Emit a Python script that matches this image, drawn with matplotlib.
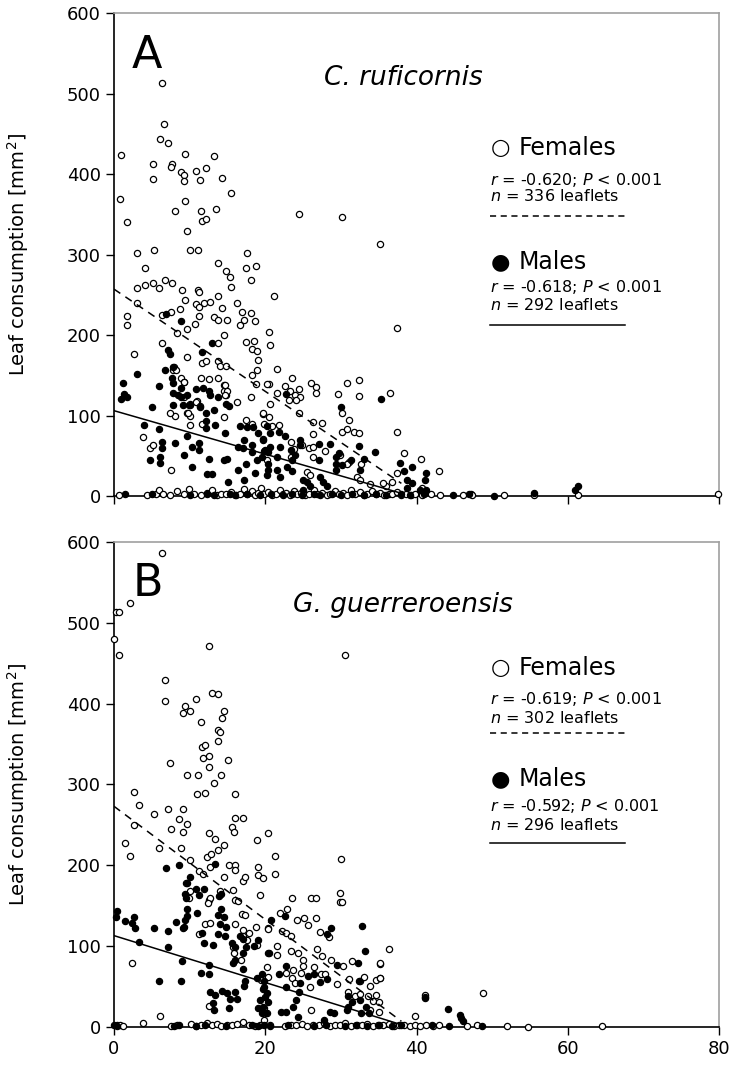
import matplotlib.pyplot as plt
import numpy as np

# ---- panel A: C. ruficornis (female = open, male = filled) ----
a_fem = [
    (6.4, 513), (6.65, 462), (6.1, 444), (7.2, 438), (0.9, 424), (9.4, 425), (13.2, 422), (5.2, 412),
    (7.7, 413), (7.6, 409), (8.8, 402), (9.3, 399), (9.3, 391), (10.9, 404), (12.2, 407), (11.4, 392),
    (5.2, 394), (14.3, 395), (15.5, 376), (0.8, 369), (9.4, 367), (8.1, 354), (11.5, 354), (13.5, 357),
    (11.6, 342), (12.2, 344), (1.7, 341), (9.7, 329), (24.4, 350), (30.2, 347), (35.2, 313), (3.1, 302),
    (5.3, 306), (10.0, 305), (11.1, 305), (17.6, 302), (13.8, 290), (18.8, 286), (17.5, 283),
    (4.1, 283), (3.0, 259), (4.1, 262), (5.1, 264), (5.9, 259), (6.8, 268), (7.7, 265), (9.0, 256),
    (9.4, 243), (3.0, 240), (1.7, 224), (1.7, 213), (2.6, 176), (6.3, 225), (7.5, 229), (8.7, 232),
    (8.3, 203), (9.7, 207), (10.7, 214), (10.9, 238), (11.3, 235), (11.9, 240), (12.7, 241), (11.3, 224),
    (11.1, 256), (11.3, 253), (13.2, 222), (13.8, 219), (14.9, 219), (14.3, 233), (13.8, 248), (14.8, 280),
    (15.3, 272), (15.5, 260), (18.1, 268), (16.3, 240), (16.9, 229), (17.2, 219), (18.1, 227), (18.7, 218),
    (16.6, 212), (14.5, 200), (13.7, 190), (6.4, 190), (9.6, 173), (11.6, 165), (12.2, 168), (13.8, 168),
    (14.0, 161), (14.8, 161), (17.5, 191), (18.5, 192), (18.3, 182), (18.9, 180), (19.0, 169), (18.9, 157),
    (18.3, 150), (18.8, 139), (18.1, 123), (20.5, 139), (7.8, 156), (8.8, 147), (9.3, 142), (11.5, 147),
    (12.6, 145), (13.8, 147), (14.5, 138), (14.6, 131), (14.8, 126), (16.3, 117), (11.0, 118), (9.9, 113),
    (9.7, 103), (10.0, 100), (8.1, 100), (11.6, 89), (10.0, 88), (14.5, 98), (3.9, 73), (4.8, 60),
    (5.1, 63), (7.6, 32), (17.5, 95), (18.3, 90), (19.7, 102), (20.5, 98), (20.2, 45), (8.0, 160),
    (8.2, 156), (9.2, 142), (9.3, 123), (10.0, 114), (10.9, 117), (11.4, 112), (14.7, 138), (14.9, 130),
    (14.7, 125), (7.4, 103), (9.8, 103),
    (21.1, 248), (20.5, 204), (20.6, 188), (21.5, 158), (20.2, 139), (21.5, 128), (20.6, 114), (22.6, 137),
    (23.5, 147), (23.3, 131), (23.9, 126), (24.5, 133), (24.6, 123), (24.1, 119), (23.2, 119), (24.5, 103),
    (26.0, 141), (26.7, 135), (26.7, 128), (26.3, 92), (27.5, 91), (26.3, 77), (29.6, 127), (30.8, 141),
    (32.4, 144), (32.4, 124), (30.2, 103), (30.2, 80), (30.8, 83), (31.8, 79), (32.4, 78), (31.1, 94),
    (36.5, 128), (37.4, 209), (37.4, 80), (38.3, 53), (40.6, 46), (43.0, 31), (19.7, 103), (19.8, 90),
    (20.9, 87), (21.8, 88), (23.4, 67), (23.8, 59), (23.4, 49), (24.9, 63), (25.8, 60), (26.3, 61),
    (27.9, 56), (29.9, 51), (31.1, 42), (30.8, 40), (32.6, 40), (26.3, 48), (25.5, 30), (25.9, 26),
    (32.1, 24), (32.5, 20), (33.9, 15), (37.4, 28), (35.9, 13), (35.6, 16), (36.7, 17), (40.7, 10),
    # near-zero row
    (0.7, 1), (4.4, 1), (5.6, 2), (6.0, 8), (6.5, 3), (7.4, 1), (8.3, 6), (9.2, 2), (9.9, 9), (10.6, 2),
    (11.5, 1), (12.3, 4), (12.9, 7), (13.6, 1), (14.2, 3), (14.8, 2), (15.5, 5), (16.1, 1), (16.7, 3),
    (17.2, 9), (17.6, 2), (18.2, 6), (18.6, 1), (19.1, 4), (19.5, 10), (19.9, 2), (20.4, 5), (20.9, 1),
    (21.4, 3), (21.9, 7), (22.4, 2), (22.8, 4), (23.3, 1), (23.8, 6), (24.2, 2), (24.7, 4), (25.3, 1),
    (25.8, 3), (26.4, 8), (26.9, 2), (27.5, 4), (28.1, 1), (28.6, 3), (29.2, 6), (29.7, 2), (30.3, 4),
    (30.8, 1), (31.4, 8), (31.9, 3), (32.5, 5), (33.0, 1), (33.5, 3), (34.1, 6), (34.6, 2), (35.2, 4),
    (35.7, 1), (36.3, 3), (36.8, 2), (37.4, 5), (38.0, 1), (38.6, 3), (39.3, 1), (39.8, 2), (40.7, 1),
    (41.9, 2), (43.1, 1), (46.1, 1), (47.2, 2), (47.4, 1), (51.6, 1), (55.5, 1), (61.3, 1), (79.8, 2),
]
a_male = [
    (6.9, 226), (8.9, 218), (12.9, 190), (11.6, 179), (7.2, 181), (7.4, 177), (3.1, 152), (1.2, 141),
    (1.3, 127), (0.9, 120), (1.7, 123), (6.0, 137), (6.7, 156), (7.8, 160), (7.7, 147), (7.8, 140),
    (8.9, 134), (7.8, 128), (8.4, 126), (8.8, 123), (9.6, 126), (7.8, 113), (9.1, 113), (10.1, 113),
    (10.9, 133), (11.8, 134), (11.4, 111), (12.2, 103), (13.7, 123), (14.8, 114), (15.2, 112), (13.2, 107),
    (5.0, 111), (4.0, 88), (5.9, 83), (4.7, 45), (6.1, 49), (6.1, 41), (6.4, 67), (6.4, 60), (8.1, 66),
    (9.3, 51), (10.3, 61), (11.3, 66), (11.3, 57), (9.7, 75), (12.1, 93), (12.1, 84), (13.3, 88),
    (14.7, 78), (10.3, 36), (12.6, 46), (12.3, 27), (13.0, 27), (14.9, 46), (14.5, 45), (15.1, 18),
    (16.4, 32), (16.4, 61), (17.1, 60), (16.7, 87), (17.6, 86), (17.2, 70), (18.4, 86), (19.0, 78),
    (18.2, 63), (18.3, 55), (18.9, 45), (19.6, 49), (19.7, 71), (20.0, 57), (20.4, 55), (17.5, 40),
    (17.2, 20), (18.7, 28), (20.4, 32), (20.2, 87), (12.5, 130), (12.7, 125),
    (22.8, 127), (30.0, 111), (35.3, 120), (19.7, 70), (20.6, 78), (19.9, 56), (20.6, 61), (21.8, 80),
    (22.6, 75), (21.9, 61), (21.5, 49), (20.3, 40), (21.5, 32), (20.2, 26), (21.9, 24), (23.4, 57),
    (23.9, 51), (23.5, 45), (22.9, 36), (23.5, 31), (24.6, 70), (24.6, 63), (27.1, 64), (28.6, 64),
    (27.1, 45), (29.3, 49), (29.8, 54), (29.3, 40), (29.4, 32), (30.1, 39), (31.3, 45), (32.4, 62),
    (33.1, 46), (32.5, 32), (34.5, 55), (37.8, 41), (38.3, 31), (39.4, 36), (41.2, 28), (38.7, 20),
    (39.4, 16), (40.5, 8), (41.3, 7), (25.0, 20), (25.5, 17), (25.9, 12), (27.7, 18), (27.2, 24),
    (25.0, 7), (28.1, 12), (41.1, 20), (38.7, 10),
    # near-zero row
    (1.4, 2), (5.0, 2), (10.0, 1), (12.3, 2), (13.2, 1), (15.3, 3), (16.0, 1), (17.6, 2), (19.3, 1),
    (20.8, 3), (22.4, 1), (23.5, 2), (24.9, 1), (26.5, 3), (27.3, 1), (28.8, 2), (30.0, 1), (31.5, 2),
    (33.0, 1), (34.7, 3), (36.0, 1), (37.9, 2), (39.2, 1), (41.0, 2), (44.8, 1), (46.9, 2), (50.2, 0),
    (55.5, 4), (61.3, 12), (61.0, 7),
]

# ---- panel B: G. guerreroensis ----
b_fem = [
    (6.4, 587), (2.1, 524), (0.3, 513), (0.7, 514), (0.0, 480), (0.6, 460), (12.6, 471), (6.7, 429),
    (6.8, 403), (12.9, 413), (13.7, 412), (10.8, 406), (9.4, 397), (9.1, 388), (10.0, 391), (14.5, 391),
    (14.3, 382), (11.5, 377), (13.8, 367), (14.0, 365), (13.8, 354), (11.6, 346), (12.0, 349), (11.8, 333),
    (12.6, 335), (12.6, 322), (15.1, 330), (7.4, 327), (9.7, 312), (11.1, 312), (14.1, 312), (13.2, 302),
    (30.6, 460),
    (11.0, 288), (12.0, 289), (16.0, 288), (2.6, 291), (3.3, 274), (2.7, 250), (5.3, 263), (7.1, 270),
    (9.1, 270), (8.6, 257), (9.7, 251), (7.5, 245), (9.1, 241), (1.5, 227), (2.1, 212), (5.9, 221),
    (8.9, 221), (15.6, 248), (16.0, 258), (17.0, 258), (15.9, 241), (12.6, 240), (13.4, 232), (13.8, 219),
    (14.5, 225), (10.0, 206), (11.2, 193), (11.8, 189), (12.3, 210), (12.8, 214), (12.7, 198), (14.5, 186),
    (15.2, 200), (16.0, 200), (16.0, 194), (17.0, 181), (17.3, 185), (18.9, 231), (20.4, 240), (19.1, 198),
    (19.0, 188), (19.7, 184), (19.3, 163), (9.5, 178), (10.0, 168), (9.9, 159), (12.5, 157), (12.7, 160),
    (14.0, 168), (12.4, 153), (15.8, 170), (16.0, 157), (16.4, 156), (11.2, 115), (12.0, 127), (12.7, 128),
    (16.0, 127), (16.9, 140), (17.3, 139), (17.1, 120), (17.0, 113), (17.9, 116), (17.6, 107), (18.8, 124),
    (18.9, 102), (20.3, 122), (15.7, 99), (15.9, 91), (16.8, 83), (2.4, 79), (12.5, 26), (6.1, 13),
    (19.8, 24), (20.2, 17),
    (21.3, 212), (21.3, 189), (30.0, 208), (23.5, 160), (26.0, 159), (26.7, 159), (29.9, 166), (29.9, 154),
    (30.1, 154), (22.9, 146), (21.9, 141), (24.2, 132), (25.1, 135), (25.7, 126), (26.7, 135), (27.3, 117),
    (28.4, 111), (22.2, 119), (22.8, 116), (23.4, 113), (20.3, 121), (21.5, 100), (21.5, 89), (23.4, 94),
    (24.3, 91), (25.0, 83), (26.9, 96), (27.5, 88), (28.7, 83), (30.3, 75), (31.5, 81), (35.2, 78),
    (36.4, 96), (22.8, 67), (23.7, 71), (24.7, 67), (23.5, 60), (23.9, 54), (25.0, 75), (26.4, 74),
    (27.4, 66), (27.9, 65), (29.5, 53), (31.1, 59), (32.5, 57), (33.0, 62), (34.6, 58), (35.2, 61),
    (33.9, 51), (25.9, 50), (20.3, 62), (20.2, 74), (19.5, 58), (31.0, 43), (31.9, 38), (32.5, 41),
    (33.6, 38), (34.3, 32), (34.6, 40), (35.0, 31), (33.9, 21), (35.0, 18), (26.1, 21), (39.8, 13),
    (41.1, 40), (41.1, 37), (35.2, 79), (35.2, 60), (48.8, 42),
    # near-zero row
    (0.4, 2), (0.8, 3), (1.2, 1), (3.8, 5), (7.5, 1), (8.3, 2), (10.2, 4), (10.9, 1), (11.5, 3), (12.3, 5),
    (12.9, 2), (13.6, 4), (14.2, 1), (14.9, 3), (15.6, 2), (16.3, 4), (17.1, 6), (17.8, 2), (18.6, 1),
    (19.3, 3), (19.9, 8), (20.6, 2), (22.6, 1), (23.4, 3), (24.0, 2), (24.8, 4), (25.5, 1), (26.3, 3),
    (27.1, 2), (27.8, 5), (28.5, 1), (29.2, 3), (29.9, 2), (30.6, 5), (31.3, 1), (32.1, 3), (32.8, 2),
    (33.5, 4), (34.2, 1), (34.9, 3), (35.6, 2), (36.3, 4), (37.0, 1), (37.7, 3), (38.4, 2), (39.1, 1),
    (39.8, 3), (40.5, 1), (41.3, 2), (42.2, 1), (43.0, 2), (46.7, 1), (48.0, 2), (52.0, 1), (54.8, 0),
    (64.5, 1),
]
b_male = [
    (6.9, 197), (8.6, 200), (13.4, 202), (10.1, 186), (9.6, 178), (10.8, 171), (11.9, 171), (11.2, 163),
    (9.4, 165), (9.5, 159), (9.7, 146), (9.6, 137), (9.4, 132), (9.2, 124), (11.0, 141), (13.9, 162),
    (14.1, 164), (14.2, 146), (14.5, 136), (13.8, 139), (14.0, 127), (13.8, 115), (14.7, 113), (14.8, 124),
    (0.4, 144), (0.3, 136), (1.5, 131), (2.4, 129), (2.7, 136), (2.8, 123), (5.3, 122), (7.1, 119),
    (8.2, 130), (9.1, 123), (3.3, 105), (7.1, 99), (9.0, 81), (5.9, 57), (8.9, 57), (11.6, 116),
    (11.9, 104), (13.1, 102), (12.5, 77), (11.5, 67), (12.5, 66), (12.7, 43), (13.4, 39), (14.3, 45),
    (14.9, 42), (15.4, 35), (16.0, 43), (16.2, 34), (15.2, 23), (13.1, 30), (13.2, 21), (15.6, 104),
    (16.0, 99), (16.6, 112), (17.0, 109), (17.4, 99), (17.1, 91), (18.5, 100), (19.0, 108), (15.7, 79),
    (16.0, 83), (17.0, 72), (17.3, 57), (17.2, 51), (18.9, 60), (19.6, 66), (19.9, 57), (19.7, 47),
    (19.3, 33), (19.1, 24), (19.6, 17), (20.2, 42), (20.3, 31), (20.4, 91),
    (20.8, 132), (22.6, 137), (20.5, 92), (28.7, 122), (28.1, 115), (32.8, 125), (33.2, 94), (32.2, 79),
    (29.5, 77), (21.8, 66), (22.7, 76), (25.7, 63), (26.4, 66), (27.3, 55), (28.2, 59), (32.4, 57),
    (30.9, 38), (31.5, 31), (32.5, 33), (30.8, 21), (31.0, 25), (33.3, 25), (33.7, 17), (32.6, 17),
    (22.7, 49), (24.6, 54), (24.5, 43), (24.1, 33), (23.7, 25), (22.1, 19), (22.7, 19), (19.9, 50),
    (20.0, 37), (19.7, 25), (20.1, 17), (28.5, 19), (29.1, 17), (24.3, 12), (27.8, 8), (44.1, 22),
    (45.8, 15), (45.9, 11), (46.1, 7), (41.1, 36),
    # near-zero row
    (0.0, 2), (0.4, 1), (7.9, 1), (8.6, 2), (10.8, 1), (12.0, 2), (14.8, 1), (18.2, 3), (19.0, 1),
    (19.8, 2), (20.6, 1), (23.0, 2), (26.5, 1), (28.0, 3), (30.5, 1), (32.0, 2), (33.5, 1), (35.0, 2),
    (36.8, 1), (38.0, 2), (42.1, 3), (44.3, 1), (48.6, 1),
]

# regression lines (intercept, slope, x end)
a_fem_fit = (257, -6.35, 38)
a_male_fit = (106, -2.7, 38)
b_fem_fit = (273, -7.0, 38)
b_male_fit = (113, -2.9, 38)

a_stats = ["$r$ = -0.620; $P$ < 0.001", "$n$ = 336 leaflets",
           "$r$ = -0.618; $P$ < 0.001", "$n$ = 292 leaflets"]
b_stats = ["$r$ = -0.619; $P$ < 0.001", "$n$ = 302 leaflets",
           "$r$ = -0.592; $P$ < 0.001", "$n$ = 296 leaflets"]

plt.rcParams['font.family'] = 'DejaVu Sans'
plt.rcParams['mathtext.fontset'] = 'dejavusans'

fig = plt.figure(figsize=(7.34, 10.75), dpi=100)
axA = fig.add_axes([0.1553, 0.5386, 0.8243, 0.4493])
axB = fig.add_axes([0.1553, 0.0447, 0.8243, 0.4511])


def draw_panel(ax, fem, male, ffit, mfit, letter, species, stats, ypos, show_xlabels):
    fx, fy = zip(*fem)
    mx, my = zip(*male)
    ax.scatter(fx, fy, s=20, facecolors='white', edgecolors='black', linewidths=0.9, zorder=3, clip_on=False)
    ax.scatter(mx, my, s=20, facecolors='black', edgecolors='black', linewidths=0.9, zorder=4, clip_on=False)

    xf = np.array([0, ffit[2]])
    ax.plot(xf, ffit[0] + ffit[1] * xf, color='black', lw=1.1, ls=(0, (5, 4)), zorder=5)
    xm = np.array([0, mfit[2]])
    ax.plot(xm, mfit[0] + mfit[1] * xm, color='black', lw=1.1, zorder=5)

    ax.set_xlim(0, 80)
    ax.set_ylim(0, 600)
    ax.set_xticks([0, 20, 40, 60, 80])
    ax.set_yticks(range(0, 601, 100))
    ax.tick_params(direction='out', length=6, width=1, labelsize=13, colors='black')
    if not show_xlabels:
        ax.set_xticklabels([])
    for side in ['top', 'right']:
        ax.spines[side].set_color('#a0a0a0')
        ax.spines[side].set_linewidth(1.2)
    for side in ['left', 'bottom']:
        ax.spines[side].set_color('black')
        ax.spines[side].set_linewidth(1.2)
    ax.set_ylabel('Leaf consumption [mm$^2$]', fontsize=14, labelpad=26)

    ax.text(0.03, ypos[0], letter, transform=ax.transAxes, fontsize=32, va='center', ha='left')
    ax.text(0.478, ypos[1], species, transform=ax.transAxes, fontsize=19, style='italic',
            va='center', ha='center')

    ax.text(0.622, ypos[2], '\u25CB', transform=ax.transAxes, fontsize=16, va='center', ha='left')
    ax.text(0.668, ypos[2], 'Females', transform=ax.transAxes, fontsize=17, va='center', ha='left')
    ax.text(0.622, ypos[3], stats[0], transform=ax.transAxes, fontsize=11.5, va='center', ha='left')
    ax.text(0.622, ypos[4], stats[1], transform=ax.transAxes, fontsize=11.5, va='center', ha='left')
    ax.plot([0.622, 0.845], [ypos[5], ypos[5]], transform=ax.transAxes, color='black', lw=1.1,
            ls=(0, (4, 3)))

    ax.text(0.622, ypos[6], '\u25CF', transform=ax.transAxes, fontsize=16, va='center', ha='left')
    ax.text(0.668, ypos[6], 'Males', transform=ax.transAxes, fontsize=17, va='center', ha='left')
    ax.text(0.622, ypos[7], stats[2], transform=ax.transAxes, fontsize=11.5, va='center', ha='left')
    ax.text(0.622, ypos[8], stats[3], transform=ax.transAxes, fontsize=11.5, va='center', ha='left')
    ax.plot([0.622, 0.845], [ypos[9], ypos[9]], transform=ax.transAxes, color='black', lw=1.1)


draw_panel(axA, a_fem, a_male, a_fem_fit, a_male_fit, 'A', 'C. ruficornis', a_stats,
           [0.913, 0.865, 0.72, 0.654, 0.621, 0.580, 0.484, 0.433, 0.395, 0.354], False)
draw_panel(axB, b_fem, b_male, b_fem_fit, b_male_fit, 'B', 'G. guerreroensis', b_stats,
           [0.915, 0.870, 0.740, 0.676, 0.637, 0.606, 0.511, 0.456, 0.416, 0.379], True)

fig.savefig('out.png', dpi=100)
